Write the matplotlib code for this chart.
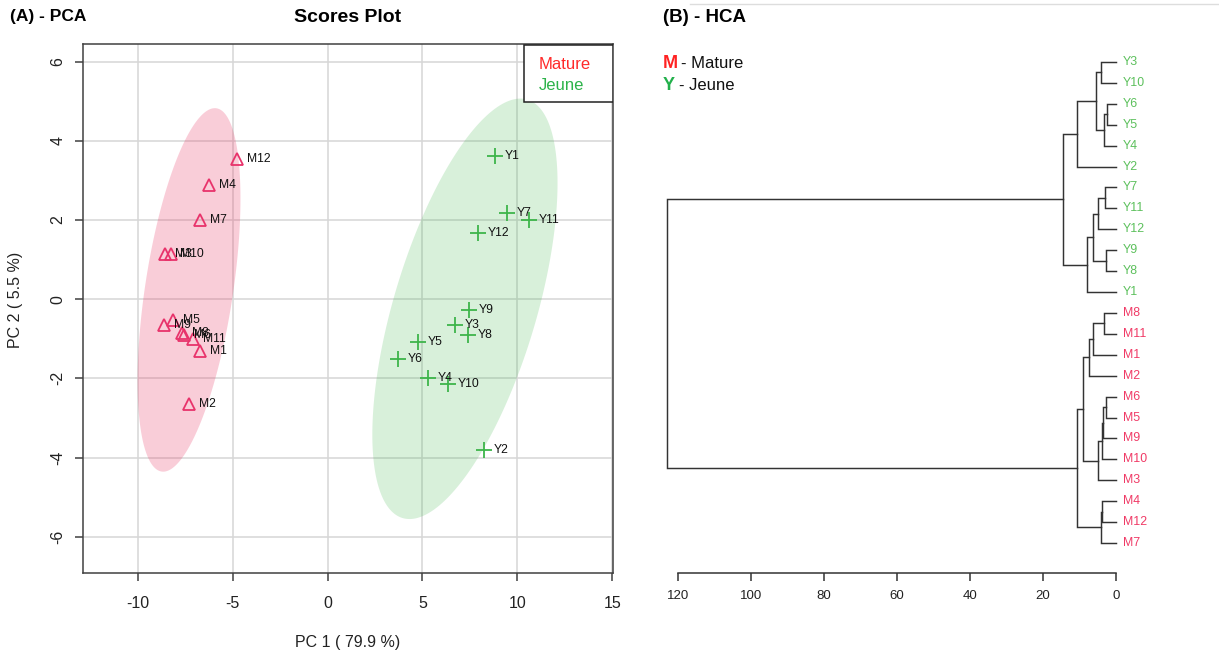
import numpy as np
import matplotlib
matplotlib.use("Agg")
import matplotlib.pyplot as plt
from matplotlib.patches import Polygon, Rectangle
from matplotlib.lines import Line2D

# ---------------- PCA scores ----------------
mature_labels = ["M1", "M2", "M3", "M4", "M5", "M6", "M7", "M8", "M9", "M10", "M11", "M12"]
mature_pc1 = [-6.73, -7.29, -8.57, -6.26, -8.14, -7.56, -6.71, -7.66, -8.63, -8.28, -7.08, -4.76]
mature_pc2 = [-1.31, -2.64, 1.14, 2.88, -0.52, -0.90, 2.01, -0.86, -0.65, 1.14, -1.00, 3.54]

young_labels = ["Y1", "Y2", "Y3", "Y4", "Y5", "Y6", "Y7", "Y8", "Y9", "Y10", "Y11", "Y12"]
young_pc1 = [8.81, 8.25, 6.72, 5.28, 4.78, 3.73, 9.48, 7.42, 7.47, 6.37, 10.62, 7.95]
young_pc2 = [3.61, -3.82, -0.66, -1.98, -1.09, -1.51, 2.19, -0.91, -0.28, -2.13, 2.00, 1.68]

pca_xticks = [-10, -5, 0, 5, 10, 15]
pca_yticks = [-6, -4, -2, 0, 2, 4, 6]
pc1_label = "PC 1 ( 79.9 %)"
pc2_label = "PC 2 ( 5.5 %)"
group_names = ["Mature", "Jeune"]

# ---------------- HCA merges (linkage style) ----------------
merge_left = ["Y6", "M6", "Y9", "Y7", "n0", "M8", "n1", "n6", "M4", "Y3", "n8",
              "n3", "n7", "n9", "n5", "n11", "n14", "n15", "n16", "n13", "n18", "n19", "n21"]
merge_right = ["Y5", "M5", "Y8", "Y11", "Y4", "M11", "M9", "M10", "M12", "Y10", "M7",
               "Y12", "M3", "n4", "M1", "n2", "M2", "Y1", "n12", "Y2", "n10", "n17", "n20"]
merge_height = [2.6, 2.7, 2.8, 3.1, 3.3, 3.4, 3.5, 3.7, 3.8, 4.0, 4.0,
                 4.8, 4.8, 5.5, 6.2, 6.4, 7.5, 7.9, 9.1, 10.6, 10.8, 14.5, 122.9]
hca_ticks = [120, 100, 80, 60, 40, 20, 0]

# colours
C_M_MARK = "#E8336B"
C_Y_MARK = "#3DB54A"
C_M_FILL = "#E9305F"
C_Y_FILL = "#3DB54A"
C_M_LEAF = "#F03A66"
C_Y_LEAF = "#5CC05C"

plt.rcParams["font.family"] = ["Liberation Sans", "DejaVu Sans"]
plt.rcParams["axes.unicode_minus"] = False

W, H = 1219, 657
def fx(px):
    return px / W
def fy(py):
    return 1 - py / H

fig = plt.figure(figsize=(W / 100, H / 100), dpi=100)

# ================= PCA panel =================
L, R, T, B = 83.3, 612.7, 44.0, 572.7
ax = fig.add_axes([fx(L), fy(B), (R - L) / W, (B - T) / H])
ax.set_xlim(-12.88, 15.03)
ax.set_ylim(-6.91, 6.45)
ax.set_xticks(pca_xticks)
ax.set_yticks(pca_yticks)
ax.grid(True, color="#D6D6D6", lw=1.1, zorder=0)
ax.set_axisbelow(True)
for s in ax.spines.values():
    s.set_color("#404040")
    s.set_linewidth(1.1)
ax.tick_params(axis="both", direction="out", length=6, width=1.1, color="#404040",
               labelsize=11.5, labelcolor="#222222")
ax.tick_params(axis="x", pad=11)
ax.tick_params(axis="y", pad=7)
for lab in ax.get_yticklabels():
    lab.set_rotation(90)
    lab.set_va("center")


def conf_ellipse(x, y, level=0.95, n=300):
    x = np.asarray(x, float)
    y = np.asarray(y, float)
    cov = np.cov(x, y)
    k = np.sqrt(-2 * np.log(1 - level))
    vals, vecs = np.linalg.eigh(cov)
    t = np.linspace(0, 2 * np.pi, n)
    circ = np.vstack([np.cos(t), np.sin(t)])
    pts = vecs @ (np.sqrt(vals)[:, None] * circ) * k
    return np.column_stack([x.mean() + pts[0], y.mean() + pts[1]])


ax.add_patch(Polygon(conf_ellipse(mature_pc1, mature_pc2), closed=True,
                     facecolor=C_M_FILL, alpha=0.24, edgecolor="none", zorder=1))
ax.add_patch(Polygon(conf_ellipse(young_pc1, young_pc2), closed=True,
                     facecolor=C_Y_FILL, alpha=0.2, edgecolor="none", zorder=1))

ax.plot(mature_pc1, mature_pc2, ls="none", marker="^", ms=8, mfc="none",
        mec=C_M_MARK, mew=1.3, zorder=3)
ax.plot(young_pc1, young_pc2, ls="none", marker="+", ms=11, mec=C_Y_MARK,
        mew=1.3, zorder=3)
for xs, ys, labs in [(mature_pc1, mature_pc2, mature_labels),
                     (young_pc1, young_pc2, young_labels)]:
    for xv, yv, lb in zip(xs, ys, labs):
        ax.annotate(lb, (xv, yv), xytext=(7, 0), textcoords="offset points",
                    va="center", ha="left", fontsize=8.7, color="#111111", zorder=4)

# legend box
ax.add_patch(Rectangle((0.8325, 0.8903), 0.1675, 0.1077, transform=ax.transAxes,
                       facecolor="white", edgecolor="#222222", lw=1.1, zorder=5))
ax.text(0.861, 0.962, group_names[0], transform=ax.transAxes, color="#FF2A2A",
        fontsize=12, va="center", ha="left", zorder=6)
ax.text(0.861, 0.9206, group_names[1], transform=ax.transAxes, color="#2DB34A",
        fontsize=12, va="center", ha="left", zorder=6)

fig.text(fx(348), fy(643), pc1_label, ha="center", va="center", fontsize=11.5,
         color="#222222")
fig.text(fx(16), fy(300), pc2_label, ha="center", va="center", rotation=90,
         fontsize=11.5, color="#222222")

title_font = ["Liberation Sans Narrow", "Liberation Sans", "DejaVu Sans"]
fig.text(fx(10), fy(17), "(A) - PCA", ha="left", va="center", fontsize=12.5,
         fontweight="bold", family=title_font)
fig.text(fx(348), fy(17), "Scores Plot", ha="center", va="center", fontsize=14,
         fontweight="bold", family=title_font)
fig.text(fx(663), fy(17), "(B) - HCA", ha="left", va="center", fontsize=13.5,
         fontweight="bold", family=title_font)
fig.add_artist(Line2D([fx(690), 1.0], [fy(4), fy(4)], color="#DDDDDD", lw=1))

# ================= HCA panel =================
children = {}
for a, b, h, i in zip(merge_left, merge_right, merge_height, range(len(merge_height))):
    children["n%d" % i] = (a, b, h)
root = "n%d" % (len(merge_height) - 1)

order = []
def traverse(node):
    if node in children:
        a, b, _ = children[node]
        traverse(a)
        traverse(b)
    else:
        order.append(node)
traverse(root)
leaf_pos = {name: i for i, name in enumerate(order)}
n_leaves = len(order)

ax2_left = 1116 - 125 * 3.65
ax2 = fig.add_axes([fx(ax2_left), fy(573), (1116 - ax2_left) / W, (573 - 40) / H])
ax2.set_xlim(125, 0)
spacing = (543 - 62) / (n_leaves - 1)
ax2.set_ylim(n_leaves - 1 + (573 - 543) / spacing, -(62 - 40) / spacing)

pos = {}
def place(node):
    if node in pos:
        return pos[node]
    if node in children:
        a, b, h = children[node]
        ya, ha_ = place(a)
        yb, hb = place(b)
        ax2.plot([ha_, h, h, hb], [ya, ya, yb, yb], color="#333333", lw=1.05,
                 solid_joinstyle="miter", clip_on=False)
        pos[node] = ((ya + yb) / 2, h)
    else:
        pos[node] = (leaf_pos[node], 0.0)
    return pos[node]
place(root)

for name in order:
    col = C_Y_LEAF if name.startswith("Y") else C_M_LEAF
    ax2.annotate(name, (0, leaf_pos[name]), xytext=(5, 0), textcoords="offset points",
                 va="center", ha="left", fontsize=8.9, color=col, annotation_clip=False)

for side in ["top", "right", "left"]:
    ax2.spines[side].set_visible(False)
ax2.spines["bottom"].set_bounds(0, 120)
ax2.spines["bottom"].set_color("#333333")
ax2.spines["bottom"].set_linewidth(1.1)
ax2.set_xticks(hca_ticks)
ax2.set_yticks([])
ax2.tick_params(axis="x", direction="out", length=5.5, width=1.1, color="#333333",
                labelsize=9.5, labelcolor="#222222", pad=7)

# HCA legend
fig.text(fx(663), fy(64), "M", color="#FF2222", fontsize=13, fontweight="bold",
         ha="left", va="center")
fig.text(fx(681), fy(64), "- Mature", color="#111111", fontsize=12, ha="left", va="center")
fig.text(fx(663), fy(86), "Y", color="#22B04B", fontsize=13, fontweight="bold",
         ha="left", va="center")
fig.text(fx(679), fy(86), "- Jeune", color="#111111", fontsize=12, ha="left", va="center")

fig.savefig("out.png", dpi=100)
